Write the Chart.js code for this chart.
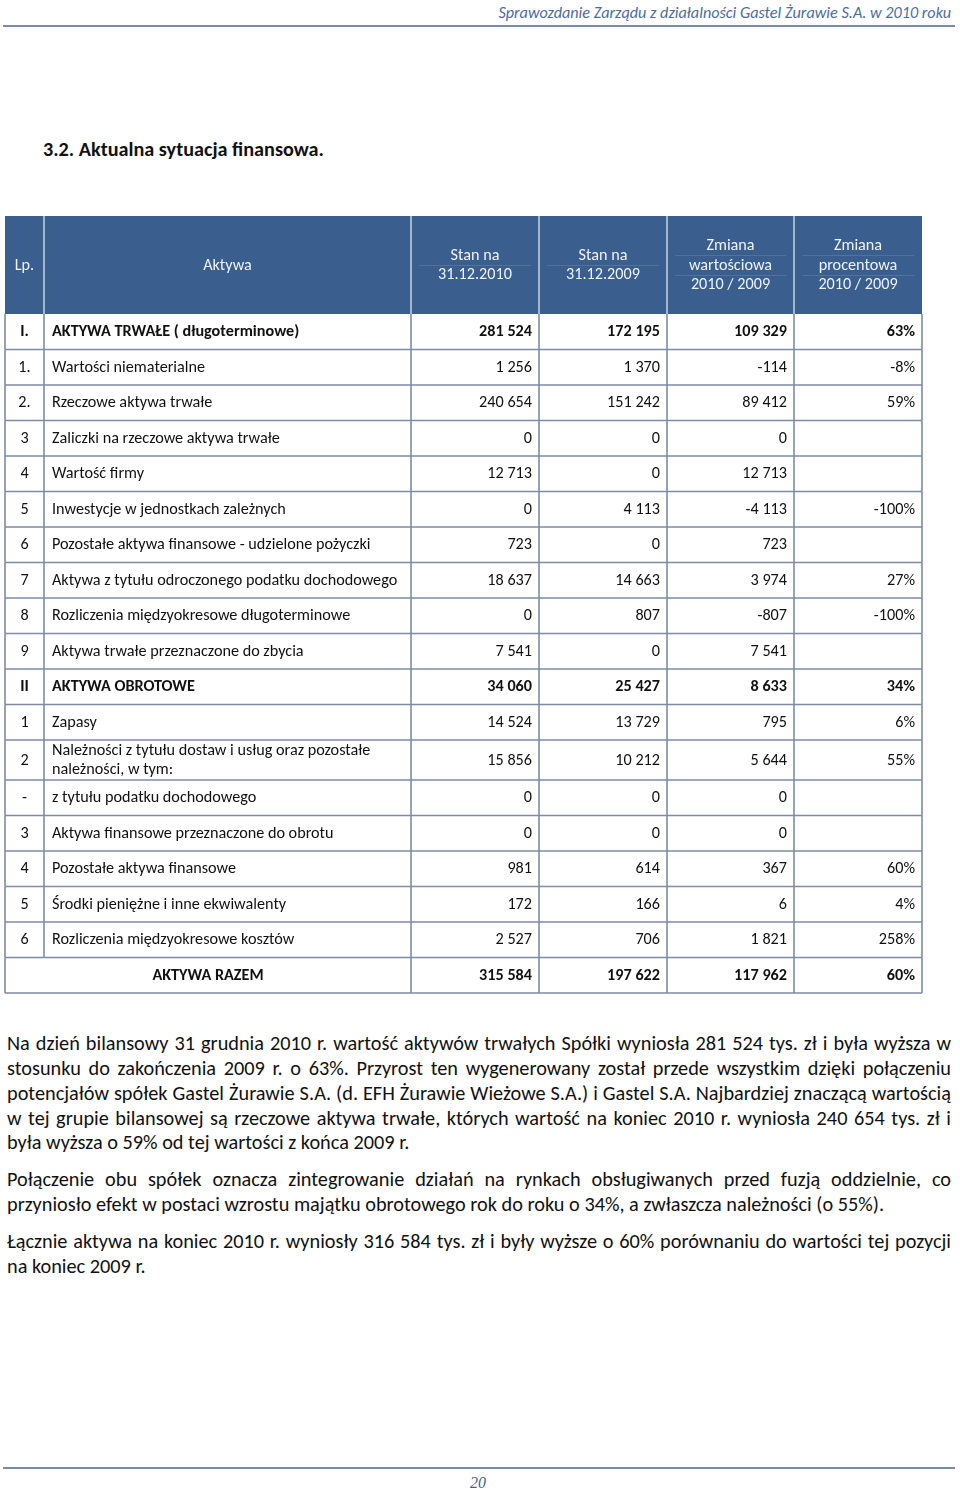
<!DOCTYPE html>
<html lang="pl">
<head>
<meta charset="utf-8">
<title>3.2. Aktualna sytuacja finansowa</title>
<script src="https://cdn.jsdelivr.net/npm/chart.js@4.4.1/dist/chart.umd.min.js"></script>
<style>
  html, body { margin: 0; padding: 0; background: #fff; }
  #page { position: relative; width: 960px; height: 1495px; overflow: hidden; font-family: Carlito, Calibri, Lato, sans-serif; color: #111; }
  .running { position: absolute; right: 9px; top: 3px; font-style: italic; font-size: 16.2px; color: #4d6c9b; }
  .rule { position: absolute; left: 3px; width: 952px; height: 2px; background: #7c8aa3; }
  h1 { position: absolute; left: 43px; top: 137px; margin: 0; font-size: 20.2px; font-weight: bold; }
  #tableWrap { position: absolute; left: 0; top: 206px; width: 960px; height: 797px; }
  .ln { position: absolute; left: 7px; width: 944px; font-size: 20.3px; line-height: 20px; text-align: justify; text-align-last: justify; }
  .ln.last { text-align: left; text-align-last: left; }
  .folio { position: absolute; left: 0; width: 956px; top: 1474px; text-align: center; font: italic 16px "Liberation Serif", serif; color: #4b5f85; }
</style>
</head>
<body>
<div id="page">
  <div class="running">Sprawozdanie Zarządu z działalności Gastel Żurawie S.A. w 2010 roku</div>
  <div class="rule" style="top:25px"></div>
  <h1>3.2. Aktualna sytuacja finansowa.</h1>
  <div id="tableWrap"><canvas id="tbl" width="960" height="797"></canvas></div>

  <div class="ln" style="top:1033px">Na dzień bilansowy 31 grudnia 2010 r. wartość aktywów trwałych Spółki wyniosła 281 524 tys. zł i była wyższa w</div>
  <div class="ln" style="top:1058px">stosunku do zakończenia 2009 r. o 63%. Przyrost ten wygenerowany został przede wszystkim dzięki połączeniu</div>
  <div class="ln" style="top:1083px">potencjałów spółek Gastel Żurawie S.A. (d. EFH Żurawie Wieżowe S.A.) i Gastel S.A. Najbardziej znaczącą wartością</div>
  <div class="ln" style="top:1108px">w tej grupie bilansowej są rzeczowe aktywa trwałe, których wartość na koniec 2010 r. wyniosła 240 654 tys. zł i</div>
  <div class="ln last" style="top:1132px">była wyższa o 59% od tej wartości z końca 2009 r.</div>
  <div class="ln" style="top:1169px">Połączenie obu spółek oznacza zintegrowanie działań na rynkach obsługiwanych przed fuzją oddzielnie, co</div>
  <div class="ln last" style="top:1194px">przyniosło efekt w postaci wzrostu majątku obrotowego rok do roku o 34%, a zwłaszcza należności (o 55%).</div>
  <div class="ln" style="top:1231px">Łącznie aktywa na koniec 2010 r. wyniosły 316 584 tys. zł i były wyższe o 60% porównaniu do wartości tej pozycji</div>
  <div class="ln last" style="top:1256px">na koniec 2009 r.</div>

  <div class="rule" style="top:1467px"></div>
  <div class="folio">20</div>
</div>
<script>
// --- table data ---
const HEADERS = [["Lp."], ["Aktywa"], ["Stan na", "31.12.2010"], ["Stan na", "31.12.2009"],
  ["Zmiana", "wartościowa", "2010 / 2009"], ["Zmiana", "procentowa", "2010 / 2009"]];
const LP = ["I.", "1.", "2.", "3", "4", "5", "6", "7", "8", "9", "II", "1", "2", "-", "3", "4", "5", "6", ""];
const ITEMS = [
  "AKTYWA TRWAŁE ( długoterminowe)",
  "Wartości niematerialne",
  "Rzeczowe aktywa trwałe",
  "Zaliczki na rzeczowe aktywa trwałe",
  "Wartość firmy",
  "Inwestycje w jednostkach zależnych",
  "Pozostałe aktywa finansowe - udzielone pożyczki",
  "Aktywa z tytułu odroczonego podatku dochodowego",
  "Rozliczenia międzyokresowe długoterminowe",
  "Aktywa trwałe przeznaczone do zbycia",
  "AKTYWA OBROTOWE",
  "Zapasy",
  "Należności z tytułu dostaw i usług oraz pozostałe\nnależności, w tym:",
  "z tytułu podatku dochodowego",
  "Aktywa finansowe przeznaczone do obrotu",
  "Pozostałe aktywa finansowe",
  "Środki pieniężne i inne ekwiwalenty",
  "Rozliczenia międzyokresowe kosztów",
  "AKTYWA RAZEM"
];
const STAN_2010 = [281524, 1256, 240654, 0, 12713, 0, 723, 18637, 0, 7541, 34060, 14524, 15856, 0, 0, 981, 172, 2527, 315584];
const STAN_2009 = [172195, 1370, 151242, 0, 0, 4113, 0, 14663, 807, 0, 25427, 13729, 10212, 0, 0, 614, 166, 706, 197622];
const ZMIANA = [109329, -114, 89412, 0, 12713, -4113, 723, 3974, -807, 7541, 8633, 795, 5644, 0, 0, 367, 6, 1821, 117962];
const ZMIANA_PCT = [63, -8, 59, null, null, -100, null, 27, -100, null, 34, 6, 55, null, null, 60, 4, 258, 60];
const BOLD_ROWS = [0, 10, 18];

// --- layout (table units) ---
const COL_EDGES = [0, 39, 406, 534, 662, 789, 917];
const HEAD_H = 98;
const ROW_H = ITEMS.map((t) => (t.includes("\n") ? 40 : 35.5));
const TABLE_H = HEAD_H + ROW_H.reduce((a, b) => a + b, 0);

const HEAD_BG = "#3a5e8d";
const GRID = "#7e8da5";
const FONT = "Carlito, Calibri, Lato, sans-serif";

function fmt(v) {
  if (v === null) return "";
  const s = String(Math.abs(v)).replace(/\B(?=(\d{3})+(?!\d))/g, " ");
  return (v < 0 ? "-" : "") + s;
}

const tablePlugin = {
  id: "tableCells",
  afterDraw(chart) {
    const { ctx, scales: { x, y } } = chart;
    const px = (u) => x.getPixelForValue(u);
    const py = (u) => y.getPixelForValue(u);
    ctx.save();
    ctx.textBaseline = "middle";

    // header band
    const hTop = py(0), hBot = py(HEAD_H);
    ctx.fillStyle = HEAD_BG;
    ctx.fillRect(px(0), hTop, px(COL_EDGES[6]) - px(0), hBot - hTop);
    ctx.font = "16.2px " + FONT;
    HEADERS.forEach((lines, c) => {
      const l = px(COL_EDGES[c]), r = px(COL_EDGES[c + 1]);
      const cx = (l + r) / 2, cy = (hTop + hBot) / 2, lh = 19.6;
      const y0 = cy - ((lines.length - 1) * lh) / 2;
      // faint rules between stacked header lines
      ctx.strokeStyle = "rgba(255,255,255,0.13)"; ctx.lineWidth = 1;
      for (let i = 1; i < lines.length; i++) {
        const yy = Math.round(y0 + (i - 0.5) * lh) + 0.5;
        ctx.beginPath(); ctx.moveTo(l + 8, yy); ctx.lineTo(r - 8, yy); ctx.stroke();
      }
      ctx.fillStyle = "#eef2f8"; ctx.textAlign = "center";
      lines.forEach((t, i) => ctx.fillText(t, cx, y0 + i * lh + 0.5));
      if (c > 0) {
        ctx.strokeStyle = "#c9d4e3"; ctx.lineWidth = 1.5;
        ctx.beginPath(); ctx.moveTo(l, hTop); ctx.lineTo(l, hBot); ctx.stroke();
      }
    });

    // body rows
    let top = HEAD_H;
    ITEMS.forEach((item, r) => {
      const bot = top + ROW_H[r];
      const yT = py(top), yB = py(bot), cy = (yT + yB) / 2 + 0.5;
      const bold = BOLD_ROWS.includes(r);
      const total = r === ITEMS.length - 1;
      ctx.font = (bold ? "bold " : "") + "16.2px " + FONT;
      ctx.fillStyle = "#111";

      if (total) {
        ctx.textAlign = "center";
        ctx.fillText(item, (px(COL_EDGES[0]) + px(COL_EDGES[2])) / 2, cy);
      } else {
        ctx.textAlign = "center";
        ctx.fillText(LP[r], (px(COL_EDGES[0]) + px(COL_EDGES[1])) / 2, cy);
        ctx.textAlign = "left";
        const lines = item.split("\n");
        const lh = 19;
        lines.forEach((t, i) => ctx.fillText(t, px(COL_EDGES[1]) + 8, cy + (i - (lines.length - 1) / 2) * lh));
      }
      ctx.textAlign = "right";
      const vals = [fmt(STAN_2010[r]), fmt(STAN_2009[r]), fmt(ZMIANA[r]),
        ZMIANA_PCT[r] === null ? "" : ZMIANA_PCT[r] + "%"];
      vals.forEach((v, k) => ctx.fillText(v, px(COL_EDGES[k + 3]) - 7, cy));

      // cell borders
      ctx.strokeStyle = GRID; ctx.lineWidth = 1.6;
      ctx.beginPath();
      ctx.moveTo(px(0), yB); ctx.lineTo(px(COL_EDGES[6]), yB);
      COL_EDGES.forEach((e, k) => {
        if (total && k === 1) return;
        ctx.moveTo(px(e), yT); ctx.lineTo(px(e), yB);
      });
      ctx.stroke();
      top = bot;
    });
    ctx.restore();
  }
};

new Chart(document.getElementById("tbl"), {
  type: "scatter",
  data: { datasets: [] },
  options: {
    responsive: false,
    animation: false,
    events: [],
    layout: { padding: { left: 5, right: 38, top: 10, bottom: 10 } },
    plugins: { legend: { display: false }, tooltip: { enabled: false } },
    scales: {
      x: { type: "linear", display: false, min: 0, max: COL_EDGES[6] },
      y: { type: "linear", display: false, min: 0, max: TABLE_H, reverse: true }
    }
  },
  plugins: [tablePlugin]
});
</script>
</body>
</html>
